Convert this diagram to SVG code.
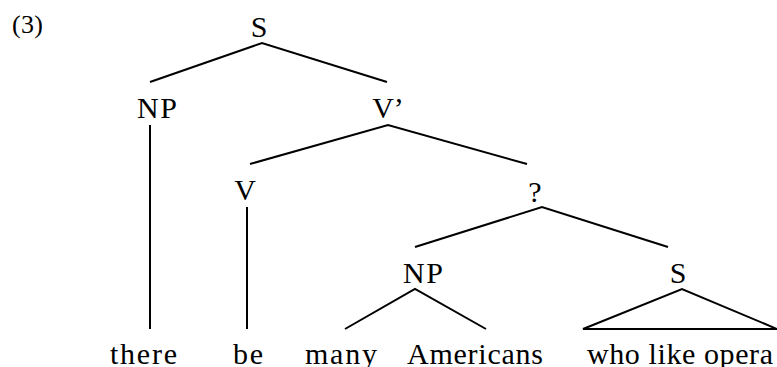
<svg xmlns="http://www.w3.org/2000/svg" width="777" height="367" viewBox="0 0 777 367">
<style>
text{font-family:"Liberation Serif","Times New Roman",serif;font-size:30px;fill:#000;text-anchor:middle}
.e line,.e polyline,.e polygon{stroke:#000;stroke-width:2;fill:none}
</style>
<rect width="777" height="367" fill="#fff"/>
<text x="27.5" y="33" style="font-size:26px" textLength="31" lengthAdjust="spacing">(3)</text>
<g class="e" id="edges">
<polyline points="150,82 262,43 387,82"/>
<line x1="150" y1="125" x2="150" y2="329"/>
<polyline points="250,164 388,125 527,164"/>
<line x1="247" y1="207" x2="247" y2="329"/>
<polyline points="415,247 542,207 668,247"/>
<polyline points="345,329 415,289 486,329"/>
<polygon points="583,329 682,289 777,329"/>
</g>
<g id="n-S"><text x="259" y="37">S</text></g>
<g id="n-NP1"><text x="157" y="118" textLength="40" lengthAdjust="spacing">NP</text></g>
<g id="n-Vbar"><text x="388" y="118">V’</text></g>
<g id="n-V"><text x="245" y="200">V</text></g>
<g id="n-Q"><text x="535" y="202">?</text></g>
<g id="n-NP2"><text x="423" y="283" textLength="40" lengthAdjust="spacing">NP</text></g>
<g id="n-S2"><text x="678" y="283">S</text></g>
<g id="w-there"><text x="143.5" y="364" textLength="67" lengthAdjust="spacing">there</text></g>
<g id="w-be"><text x="248" y="364" textLength="30" lengthAdjust="spacing">be</text></g>
<g id="w-many"><text x="341" y="364" textLength="72" lengthAdjust="spacing">many</text></g>
<g id="w-Americans"><text x="475" y="364" textLength="136" lengthAdjust="spacing">Americans</text></g>
<g id="w-who"><text x="680" y="364" textLength="186" lengthAdjust="spacing">who like opera</text></g>
</svg>
